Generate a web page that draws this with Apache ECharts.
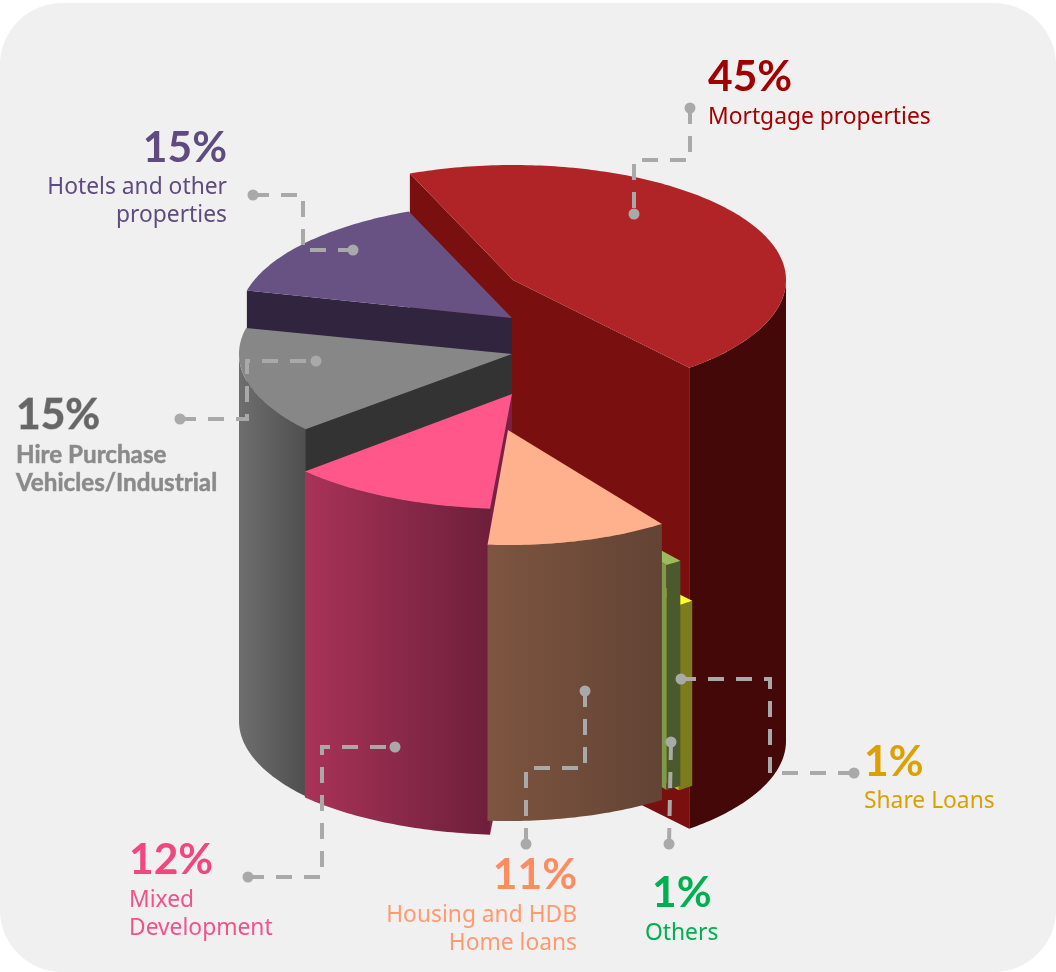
<!DOCTYPE html>
<html>
<head>
<meta charset="utf-8">
<title>Loan portfolio by segment</title>
<style>
  html, body { margin: 0; padding: 0; background: #ffffff; }
  #chart { width: 1056px; height: 972px; }
</style>
<script src="https://cdn.jsdelivr.net/npm/echarts@6/dist/echarts.min.js"></script>
</head>
<body>
<div id="chart"></div>
<script>
// Loan book shares, clockwise from the top-left edge of the largest slice.
const segments = ['Mortgage properties', 'Share Loans', 'Others', 'Housing and HDB Home loans',
                  'Mixed Development', 'Hire Purchase Vehicles/Industrial', 'Hotels and other properties'];
const shares = [45, 1, 1, 11, 12, 15, 15];

// Vertical radius of the drum and the angle where the first slice begins.
const RY = 115, START_DEG = -112.2;

// Per-slice stepped placement: horizontal radius, hub position, wall height,
// small angular nudge and paint rank.
const radiusX = [273, 273, 273, 267, 280, 273, 273];
const hubX    = [513, 516, 513, 508, 512, 512, 512];
const hubY    = [280, 513, 470, 430, 394, 354, 318];
const height  = [461, 185, 225, 276, 326, 367, 400];
const nudge   = [0, 0, -1.2, -2.2, -2.1, -0.7, 0];
const paint   = [0, 4, 5, 6, 3, 2, 1];

// Slice colours: top face, cut face, outer wall (left and right gradient stops).
const topColor  = ['#b02428', '#ffff33', '#9cbb5e', '#ffb08c', '#ff5789', '#878787', '#675283'];
const cutColor  = ['#7a0f0f', '#c8c81e', '#7d9a4d', '#7a5240', '#7a1f45', '#333333', '#31243f'];
const wallLeft  = ['#450808', '#7c7c1c', '#4a5a2d', '#7e5540', '#a83358', '#6e6e6e', '#31243f'];
const wallRight = ['#450808', '#7c7c1c', '#4a5a2d', '#624334', '#6e1f3b', '#4f4f4f', '#31243f'];

// Callout text for each slice.
const captionLines = [
  ['Mortgage properties'], ['Share Loans'], ['Others'], ['Housing and HDB', 'Home loans'],
  ['Mixed', 'Development'], ['Hire Purchase', 'Vehicles/Industrial'], ['Hotels and other', 'properties']
];
const percentColor = ['#a00000', '#dda000', '#00b050', '#ff8c5f', '#f0477f', '#666666', '#5f4b7f'];
const captionColor = ['#a50000', '#dda000', '#00b050', '#ff9a70', '#f0528a', '#8a8a8a', '#5f4b7f'];
const percentAnchor = [[708, 77, 'left'], [864, 762, 'left'], [652, 893, 'left'], [577, 875, 'right'],
                       [129, 860, 'left'], [16, 415, 'left'], [227, 148, 'right']];
const captionAnchor = [[708, 118, 'left'], [864, 802, 'left'], [645, 934, 'left'], [577, 916, 'right'],
                       [129, 901, 'left'], [16, 455, 'left'], [227, 188, 'right']];

// Dashed leader routes, running from the caption towards its slice.
const leaders = [
  [[690, 108], [690, 160], [634, 160], [634, 214]],
  [[854, 773], [770, 773], [770, 679], [681, 679]],
  [[669, 844], [671, 742]],
  [[526, 844], [526, 768], [585, 768], [585, 691]],
  [[248, 877], [322, 877], [322, 747], [395, 747]],
  [[180, 419], [247, 419], [247, 361], [316, 361]],
  [[253, 195], [303, 195], [303, 250], [353, 250]]
];

const total = shares.reduce((a, b) => a + b, 0);
let cursor = START_DEG;
const spans = shares.map((v, i) => {
  const from = cursor + nudge[i];
  const to = from + v / total * 360;
  cursor += v / total * 360;
  return [from, to];
});

function rim(i, deg, drop) {
  const t = deg * Math.PI / 180;
  return [hubX[i] + radiusX[i] * Math.cos(t), hubY[i] + RY * Math.sin(t) + (drop || 0)];
}

function arc(i, from, to, drop) {
  const pts = [];
  const steps = Math.max(2, Math.ceil(Math.abs(to - from)));
  for (let k = 0; k <= steps; k++) pts.push(rim(i, from + (to - from) * k / steps, drop));
  return pts;
}

function renderSlice(params) {
  const i = params.dataIndex;
  const [from, to] = spans[i];
  const h = height[i];
  const base = paint[i] * 10;
  const children = [];

  // Radial cut faces, only where they turn towards the viewer.
  const cut = (deg) => ({
    type: 'polygon',
    z2: base,
    shape: { points: [[hubX[i], hubY[i]], rim(i, deg), rim(i, deg, h), [hubX[i], hubY[i] + h]] },
    style: { fill: cutColor[i] }
  });
  if (Math.cos(from * Math.PI / 180) < 0) children.push(cut(from));
  if (Math.cos(to * Math.PI / 180) > 0) children.push(cut(to));

  // Curved outer wall, limited to the front half of the ellipse.
  const a = Math.max(from, 0), b = Math.min(to, 180);
  if (b > a) {
    children.push({
      type: 'polygon',
      z2: base + 1,
      shape: { points: arc(i, a, b, 0).concat(arc(i, b, a, h)) },
      style: {
        fill: new echarts.graphic.LinearGradient(0, 0, 1, 0, [
          { offset: 0, color: wallLeft[i] },
          { offset: 1, color: wallRight[i] }
        ])
      }
    });
  }

  // Top face.
  children.push({
    type: 'polygon',
    z2: base + 2,
    shape: { points: [[hubX[i], hubY[i]]].concat(arc(i, from, to, 0)) },
    style: { fill: topColor[i] }
  });

  return { type: 'group', children };
}

function labelElements() {
  const out = [];
  const PCT_FONT = 'bold 42.5px Lato, sans-serif';
  const CAP_FONT = '22.8px "Noto Sans", sans-serif';
  shares.forEach((v, i) => {
    const hire = i === 5;
    out.push({
      type: 'text', z: 100,
      style: {
        x: percentAnchor[i][0], y: percentAnchor[i][1], text: v + '%',
        font: PCT_FONT, fill: percentColor[i], align: percentAnchor[i][2], verticalAlign: 'middle',
        stroke: hire ? '#999999' : null, lineWidth: hire ? 1 : 0
      }
    });
    captionLines[i].forEach((line, k) => {
      out.push({
        type: 'text', z: 100,
        style: {
          x: captionAnchor[i][0], y: captionAnchor[i][1] + k * 28, text: line,
          font: hire ? 'bold 24.2px Lato, sans-serif' : CAP_FONT,
          fill: captionColor[i], align: captionAnchor[i][2], verticalAlign: 'middle',
          stroke: hire ? '#9a9a9a' : null, lineWidth: hire ? 0.6 : 0
        }
      });
    });
  });
  return out;
}

function leaderElements() {
  const out = [];
  leaders.forEach((route) => {
    out.push({
      type: 'polyline', z: 90,
      shape: { points: route },
      style: { stroke: '#a9a9a9', lineWidth: 4, lineDash: [16, 12], fill: null }
    });
    [route[0], route[route.length - 1]].forEach((p) => {
      out.push({
        type: 'circle', z: 91,
        shape: { cx: p[0], cy: p[1], r: 5.5 },
        style: { fill: '#a9a9a9' }
      });
    });
  });
  return out;
}

const chart = echarts.init(document.getElementById('chart'), null, { renderer: 'canvas' });
chart.setOption({
  animation: false,
  backgroundColor: '#ffffff',
  graphic: [{
    type: 'rect', z: -10,
    shape: { x: 0, y: 3, width: 1056, height: 969, r: 62 },
    style: { fill: '#f0f0f0' }
  }].concat(leaderElements(), labelElements()),
  series: [{
    type: 'custom',
    coordinateSystem: 'none',
    silent: true,
    data: shares.map((v, i) => ({ name: segments[i], value: v })),
    renderItem: renderSlice
  }]
});
</script>
</body>
</html>
